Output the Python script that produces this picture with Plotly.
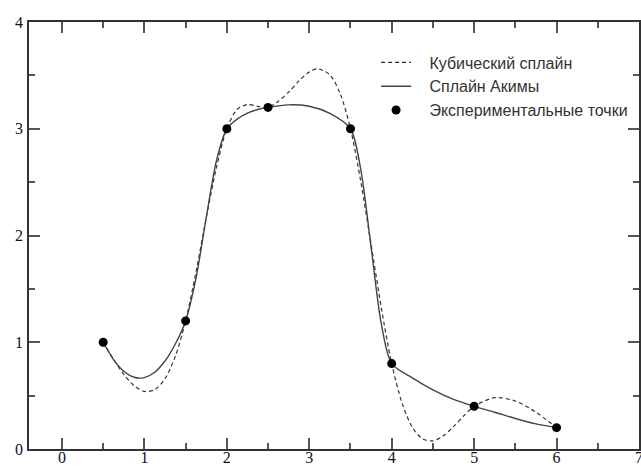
import plotly.graph_objects as go

# Experimental points
pts_x = [0.5, 1.5, 2.0, 2.5, 3.5, 4.0, 5.0, 6.0]
pts_y = [1.0, 1.2, 3.0, 3.2, 3.0, 0.8, 0.4, 0.2]

# Cubic spline curve (dashed)
cub_x = [0.5, 0.625, 0.75, 0.875, 1.0, 1.125, 1.25, 1.375, 1.5, 1.625, 1.75, 1.875, 2.0,
         2.125, 2.25, 2.375, 2.5, 2.625, 2.75, 2.875, 3.0, 3.1, 3.25, 3.375, 3.5,
         3.625, 3.75, 3.875, 4.0, 4.125, 4.25, 4.375, 4.5, 4.625, 4.75, 4.875, 5.0,
         5.25, 5.5, 5.75, 6.0]
cub_y = [1.0, 0.841, 0.699, 0.593, 0.539, 0.555, 0.659, 0.868, 1.2, 1.655, 2.164, 2.641, 3.0,
         3.181, 3.227, 3.210, 3.2, 3.257, 3.343, 3.448, 3.532, 3.562, 3.505, 3.329, 3.0,
         2.507, 1.917, 1.318, 0.8, 0.431, 0.205, 0.095, 0.076, 0.123, 0.210, 0.311, 0.4,
         0.481, 0.450, 0.344, 0.2]

# Akima spline curve (solid)
ak_x = [0.5, 0.625, 0.75, 0.875, 1.0, 1.125, 1.25, 1.375, 1.5, 1.625, 1.75, 1.875, 2.0,
        2.125, 2.25, 2.375, 2.5, 2.75, 3.0, 3.25, 3.5, 3.625, 3.75, 3.875, 4.0,
        4.25, 4.5, 4.75, 5.0, 5.25, 5.5, 5.75, 6.0]
ak_y = [1.0, 0.838, 0.729, 0.672, 0.669, 0.719, 0.824, 0.984, 1.2, 1.598, 2.167, 2.703, 3.0,
        3.090, 3.146, 3.180, 3.2, 3.224, 3.211, 3.143, 3.0, 2.617, 1.890, 1.167, 0.8,
        0.666, 0.554, 0.465, 0.4, 0.344, 0.286, 0.236, 0.2]

names = ["Кубический сплайн", "Сплайн Акимы", "Экспериментальные точки"]
x_ticks = [0, 1, 2, 3, 4, 5, 6, 7]
y_ticks = [0, 1, 2, 3, 4]

pad = "\u00a0\u00a0\u00a0"
tick_font = dict(family="Liberation Serif", size=16, color="#111122")

fig = go.Figure()
fig.add_trace(go.Scatter(x=cub_x, y=cub_y, mode="lines", name=pad + names[0],
                         line=dict(color="#333333", width=1.2, dash="4px,3px",
                                   shape="spline", smoothing=0.8)))
fig.add_trace(go.Scatter(x=ak_x, y=ak_y, mode="lines", name=pad + names[1],
                         line=dict(color="#444444", width=1.4, shape="spline", smoothing=0.8)))
fig.add_trace(go.Scatter(x=pts_x, y=pts_y, mode="markers", name=pad + names[2],
                         marker=dict(color="black", size=9)))

axis_common = dict(
    showgrid=False, zeroline=False, showline=True, linecolor="#333333", linewidth=1.5,
    mirror="allticks", ticks="inside", tickcolor="#555555", tickwidth=1.5, ticklen=11,
    tickfont=tick_font,
    minor=dict(ticks="inside", ticklen=6, tickwidth=1.5, tickcolor="#555555", dtick=0.5),
    automargin=False,
)

fig.update_xaxes(range=[-0.4, 7], tickvals=x_ticks, ticktext=[str(v) for v in x_ticks],
                 ticklabelstandoff=-7, ticklabeloverflow="allow", **axis_common)
fig.update_yaxes(range=[0, 4], tickvals=y_ticks, showticklabels=False, **axis_common)

# y tick labels placed on the y scale, just left of the frame
for v in y_ticks:
    fig.add_annotation(x=0, xref="paper", y=v, yref="y", text=str(v), showarrow=False,
                       xanchor="right", yanchor="middle", xshift=-4, font=tick_font)

fig.update_layout(
    width=641, height=466,
    margin=dict(l=29, r=2, t=22, b=17),
    plot_bgcolor="white", paper_bgcolor="white",
    showlegend=True,
    legend=dict(x=0.569, y=0.945, xanchor="left", yanchor="top",
                bgcolor="rgba(0,0,0,0)", borderwidth=0,
                font=dict(family="Liberation Sans", size=16, color="#333333"),
                tracegroupgap=0),
)

fig.write_html("out.html")
